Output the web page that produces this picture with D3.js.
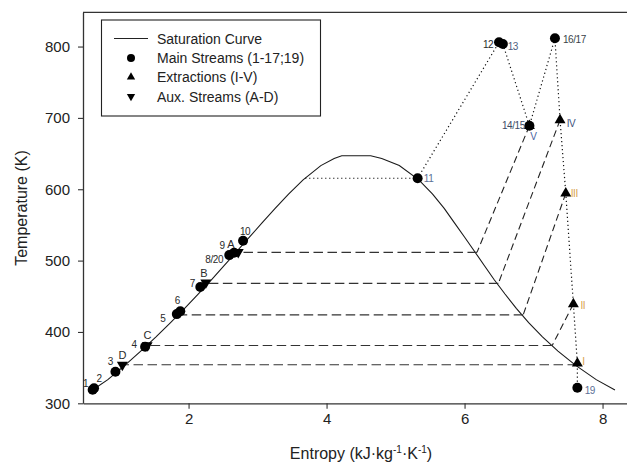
<!DOCTYPE html>
<html>
<head>
<meta charset="utf-8">
<script src="https://cdn.jsdelivr.net/npm/d3@7"></script>
<style>
  body { margin: 0; background: #fff; }
  text { font-family: "Liberation Sans", Arial, sans-serif; }
</style>
</head>
<body>
<svg id="chart" width="627" height="468"></svg>
<script>
'use strict';

// saturation curve (liquid side going up, then vapour side going down)
const satT = [320, 333.15, 353.15, 373.15, 393.15, 413.15, 433.15, 453.15, 473.15, 493.15, 513.15,
  533.15, 553.15, 573.15, 593.15, 613.15, 633.15, 643.15, 647, 647, 643.15, 633.15, 613.15, 593.15,
  573.15, 553.15, 533.15, 513.15, 493.15, 473.15, 453.15, 433.15, 413.15, 393.15, 373.15, 353.15,
  333.15, 318.7];
const satS = [0.63, 0.83, 1.076, 1.307, 1.528, 1.739, 1.943, 2.139, 2.331, 2.518, 2.702,
  2.885, 3.068, 3.255, 3.449, 3.66, 3.917, 4.11, 4.22, 4.64, 4.8, 5.054, 5.337, 5.537,
  5.705, 5.851, 5.999, 6.143, 6.286, 6.43, 6.586, 6.75, 6.929, 7.129, 7.354, 7.611,
  7.908, 8.18];

// main streams (circles)
const mainLabels = ['1', '2', '3', '4', '5', '6', '7', '8/20', '9', '10', '11', '12', '13', '14/15', '16/17', '19'];
const mainS = [0.61, 0.63, 0.94, 1.37, 1.83, 1.88, 2.17, 2.59, 2.66, 2.79, 5.32, 6.50, 6.555, 6.94, 7.31, 7.635];
const mainT = [319, 321, 344.3, 379.3, 425, 429, 463, 507.7, 511, 527.9, 615.4, 806, 803.5, 689, 811.6, 321.9];

// extractions (up triangles)
const extLabels = ['I', 'II', 'III', 'IV', 'V'];
const extS = [7.635, 7.577, 7.467, 7.384, 6.94];
const extT = [356, 439.2, 594.3, 697, 689];

// auxiliary streams (down triangles)
const auxLabels = ['A', 'B', 'C', 'D'];
const auxS = [2.72, 2.25, 1.40, 1.04];
const auxT = [511.9, 469, 381, 353.7];

// condensation of each extraction: extraction -> saturated vapour -> liquid side
const condFrom = ['V', 'IV', 'III', 'II', 'I'];
const condT = [511.5, 468, 424, 381, 354];
const condSatS = [6.18, 6.49, 6.85, 7.27, 7.63];
const condEndS = [2.74, 2.27, 1.90, 1.40, 1.07];

// turbine / heating path (dotted)
const evapStartS = 3.69;
const pathA = ['11', '12'];
const pathB = ['13', '14/15', '16/17', 'IV', 'III', 'II', 'I', '19'];

const xTicks = [2, 4, 6, 8];
const yTicks = [300, 400, 500, 600, 700, 800];

// label offsets from their marker, in px (layout only)
const labelOff = {
  '1': [-7, -6], '2': [5, -10], '3': [-5, -10], '4': [-11, -2], '5': [-14, 4], '6': [-3, -11],
  '7': [-8, -4], '8/20': [-15, 4], '9': [-12, -7], '10': [2, -9], '11': [11, 0],
  '12': [-11, 2], '13': [10, 2], '14/15': [-16, 0], '16/17': [19.5, 1], '19': [12.5, 3],
  'I': [6, -2], 'II': [9.5, 1], 'III': [8.5, 0], 'IV': [11, 3], 'V': [4, 11],
  'A': [-7.5, -8], 'B': [-2, -9], 'C': [0, -10], 'D': [0, -10]
};
const labelColor = {
  '11': '#5b6f96', '13': '#4f5f80', '19': '#5b6f96', '14/15': '#3d4b66', '16/17': '#3a3f4a',
  'V': '#4a64a0', 'IV': '#3d4f7a', 'III': '#d8a24a', 'II': '#d8a24a', 'I': '#d8a24a'
};

const svg = d3.select('#chart');

const x = d3.scaleLinear().domain([0.47, 8.55]).range([83, 640.5]);
const y = d3.scaleLinear().domain([300, 848]).range([403.3, 12.3]);

// frame
svg.append('path')
  .attr('d', `M${x.range()[0]},${y.range()[1]}H${x.range()[1]}`)
  .attr('stroke', '#333').attr('stroke-width', 1.3).attr('fill', 'none');

const xAxis = svg.append('g')
  .attr('transform', `translate(0,${y.range()[0]})`)
  .call(d3.axisBottom(x).tickValues(xTicks).tickSize(5.5).tickSizeOuter(0).tickPadding(4.5));
const yAxis = svg.append('g')
  .attr('transform', `translate(${x.range()[0]},0)`)
  .call(d3.axisLeft(y).tickValues(yTicks).tickSize(5).tickSizeOuter(0).tickPadding(8));

[xAxis, yAxis].forEach(g => {
  g.selectAll('.domain').attr('stroke', '#333').attr('stroke-width', 1.3);
  g.selectAll('.tick line').attr('stroke', '#333').attr('stroke-width', 1.1);
  g.selectAll('.tick text').attr('fill', '#222').style('font-size', '15px')
    .style('font-family', '"Liberation Sans", Arial, sans-serif');
});

// axis titles
const xt = svg.append('text')
  .attr('x', 361).attr('y', 459)
  .attr('text-anchor', 'middle')
  .attr('fill', '#222').style('font-size', '16px');
xt.append('tspan').text('Entropy (kJ\u00b7kg');
xt.append('tspan').attr('dy', -6).style('font-size', '10px').text('-1');
xt.append('tspan').attr('dy', 6).text('\u00b7K');
xt.append('tspan').attr('dy', -6).style('font-size', '10px').text('-1');
xt.append('tspan').attr('dy', 6).text(')');

svg.append('text')
  .attr('transform', 'translate(27,208) rotate(-90)')
  .attr('text-anchor', 'middle')
  .attr('fill', '#222').style('font-size', '16px')
  .text('Temperature (K)');

// lookup of every named point
const pts = {};
mainLabels.forEach((k, i) => { pts[k] = [mainS[i], mainT[i]]; });
extLabels.forEach((k, i) => { pts[k] = [extS[i], extT[i]]; });
auxLabels.forEach((k, i) => { pts[k] = [auxS[i], auxT[i]]; });

const line = d3.line().x(d => x(d[0])).y(d => y(d[1]));

// saturation curve
svg.append('path')
  .datum(satS.map((s, i) => [s, satT[i]]))
  .attr('d', line)
  .attr('fill', 'none').attr('stroke', '#1a1a1a').attr('stroke-width', 1.1);

// condensation lines (dashed)
condFrom.forEach((k, i) => {
  if (k !== 'I') {
    svg.append('path')
      .datum([pts[k], [condSatS[i], condT[i]]])
      .attr('d', line)
      .attr('fill', 'none').attr('stroke', '#222').attr('stroke-width', 1.1)
      .attr('stroke-dasharray', '7 4');
  }
  svg.append('path')
    .datum([[condSatS[i], condT[i]], [condEndS[i], condT[i]]])
    .attr('d', line)
    .attr('fill', 'none').attr('stroke', '#333').attr('stroke-width', 1.2)
    .attr('stroke-dasharray', '9.5 4.5');
});

// heating / expansion path (dotted)
const dotted = [
  [[evapStartS, pts['11'][1]]].concat(pathA.map(k => pts[k])),
  pathB.map(k => pts[k])
];
dotted.forEach(d => {
  svg.append('path')
    .datum(d)
    .attr('d', line)
    .attr('fill', 'none').attr('stroke', '#111').attr('stroke-width', 1.2)
    .attr('stroke-dasharray', '1.2 2.8');
});

// markers
svg.append('g').selectAll('circle')
  .data(mainLabels)
  .join('circle')
  .attr('cx', k => x(pts[k][0])).attr('cy', k => y(pts[k][1]))
  .attr('r', 5).attr('fill', '#000');

const triUp = d3.symbol().type(d3.symbolTriangle).size(52);
svg.append('g').selectAll('path')
  .data(extLabels)
  .join('path')
  .attr('d', triUp)
  .attr('transform', k => `translate(${x(pts[k][0])},${y(pts[k][1])})`)
  .attr('fill', '#000');

svg.append('g').selectAll('path')
  .data(auxLabels)
  .join('path')
  .attr('d', triUp)
  .attr('transform', k => `translate(${x(pts[k][0])},${y(pts[k][1])}) rotate(180)`)
  .attr('fill', '#000');

// point labels
svg.append('g').selectAll('text')
  .data(Object.keys(labelOff))
  .join('text')
  .attr('x', k => x(pts[k][0]) + labelOff[k][0])
  .attr('y', k => y(pts[k][1]) + labelOff[k][1] + 3.6)
  .attr('text-anchor', 'middle')
  .attr('fill', k => labelColor[k] || '#2a2a2a')
  .style('font-size', k => (/^[A-D]$/.test(k) ? '11px' : '10px'))
  .style('letter-spacing', '-0.4px')
  .text(k => k);

// legend
const lg = svg.append('g');
lg.append('rect')
  .attr('x', 101.5).attr('y', 20).attr('width', 219).attr('height', 96)
  .attr('fill', '#fff').attr('stroke', '#222').attr('stroke-width', 1.1);

const legendItems = ['Saturation Curve', 'Main Streams (1-17;19)', 'Extractions (I-V)', 'Aux. Streams (A-D)'];
const rowY = [38.5, 58, 77, 96.5];

lg.append('line')
  .attr('x1', 114).attr('x2', 148).attr('y1', rowY[0]).attr('y2', rowY[0])
  .attr('stroke', '#222').attr('stroke-width', 1.1);
lg.append('circle').attr('cx', 131).attr('cy', rowY[1]).attr('r', 4).attr('fill', '#000');
lg.append('path').attr('d', d3.symbol().type(d3.symbolTriangle).size(30))
  .attr('transform', `translate(131,${rowY[2]})`).attr('fill', '#000');
lg.append('path').attr('d', d3.symbol().type(d3.symbolTriangle).size(30))
  .attr('transform', `translate(131,${rowY[3]}) rotate(180)`).attr('fill', '#000');

lg.selectAll('text.item')
  .data(legendItems)
  .join('text')
  .attr('class', 'item')
  .attr('x', 157).attr('y', (d, i) => rowY[i] + 5)
  .attr('fill', '#222').style('font-size', '14px')
  .text(d => d);
</script>
</body>
</html>
